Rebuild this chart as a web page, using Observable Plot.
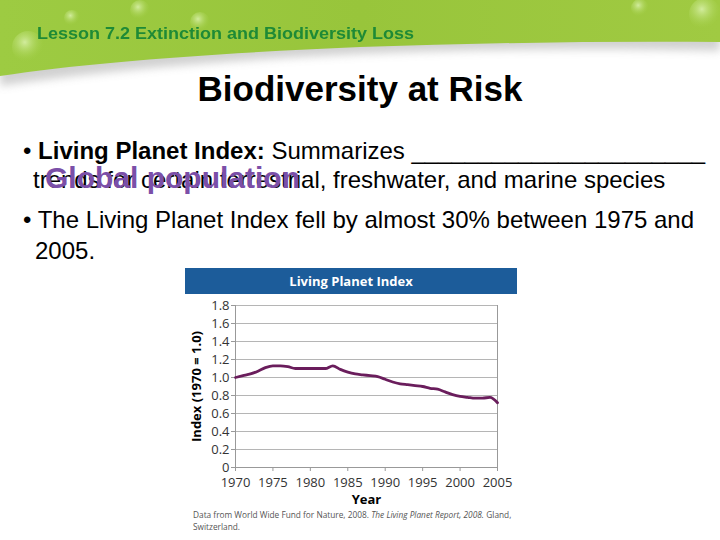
<!DOCTYPE html>
<html>
<head>
<meta charset="utf-8">
<script src="https://cdn.jsdelivr.net/npm/d3@7"></script>
<script src="https://cdn.jsdelivr.net/npm/@observablehq/plot@0.6"></script>
<style>
  html, body { margin: 0; padding: 0; background: #fff; }
  #slide { position: relative; width: 720px; height: 540px; overflow: hidden; background: #fff; font-family: "Liberation Sans", Arial, sans-serif; }
  .abs { position: absolute; white-space: nowrap; }
  #lesson { left: 37px; top: 25px; font-size: 18px; font-weight: bold; color: #1e8a36; line-height: 1; transform-origin: left top; transform: scaleY(0.9); }
  #title { left: 0; width: 720px; text-align: center; top: 71px; font-size: 35px; font-weight: bold; color: #000; line-height: 1; }
  .body { font-size: 24px; color: #000; line-height: 1; }
  #chartbox { position: absolute; left: 185px; top: 268px; width: 332px; height: 268px; background: #fff; }
  #chartHead { height: 26px; background: #1c5c9a; color: #fff; font-family: "Open Sans", sans-serif; font-weight: bold; font-size: 13px; text-align: center; line-height: 26px; }
  #chartbox svg text { font-family: "Open Sans", sans-serif; }
  #chartbox svg [aria-label="y-axis label"] text, #chartbox svg [aria-label="x-axis label"] text { font-weight: bold; fill: #000; }
  #caption { position: absolute; left: 8px; top: 241px; font-family: "Open Sans", sans-serif; font-size: 8.3px; color: #555; line-height: 12px; white-space: nowrap; }
  #caption span { display: inline-block; margin-right: 2.4px; }
</style>
</head>
<body>
<div id="slide">
  <svg class="abs" style="left:0;top:0" width="720" height="110">
    <defs>
      <linearGradient id="g" x1="0" y1="0" x2="1" y2="0">
        <stop offset="0" stop-color="#9dcb42"/>
        <stop offset="0.5" stop-color="#98c53b"/>
        <stop offset="1" stop-color="#a0ca42"/>
      </linearGradient>
      <radialGradient id="bub" cx="0.4" cy="0.35" r="0.6">
        <stop offset="0" stop-color="#d8f0a8" stop-opacity="0.9"/>
        <stop offset="1" stop-color="#a6d24c" stop-opacity="0"/>
      </radialGradient>
      <filter id="sh" x="-10%" y="-10%" width="120%" height="140%"><feGaussianBlur stdDeviation="4"/></filter>
    </defs>
    <path d="M0,0 H720 V47 C600,44 480,45 360,50 C220,56 90,68 0,82 Z" fill="#999" opacity="0.45" filter="url(#sh)" transform="translate(0,4)"/>
    <path d="M0,0 H720 V42 C600,41 480,43 360,47 C220,53 90,62 0,76 Z" fill="url(#g)"/>
    <circle cx="28" cy="47" r="16" fill="url(#bub)"/>
    <circle cx="140" cy="10" r="10" fill="url(#bub)"/>
    <circle cx="72" cy="18" r="8" fill="url(#bub)"/>
    <circle cx="200" cy="22" r="10" fill="url(#bub)"/>
    <circle cx="705" cy="14" r="16" fill="url(#bub)"/>
    <circle cx="640" cy="8" r="9" fill="url(#bub)"/>
  </svg>
  <div id="lesson" class="abs"></div>
  <div id="title" class="abs"></div>
  <div id="b1" class="abs body" style="left:23px;top:139px"></div>
  <div id="b1b" class="abs body" style="left:33px;top:168px"></div>
  <div id="gp" class="abs" style="left:45px;top:163px;font-size:30px;font-weight:bold;color:#7b4fa8;line-height:1"></div>
  <div id="b2" class="abs body" style="left:23px;top:208px"></div>
  <div id="b2b" class="abs body" style="left:35px;top:239px"></div>
  <div id="chartbox">
    <div id="chartHead"></div>
    <div id="plot"></div>
    <div id="caption"></div>
  </div>
</div>
<script>
// ---- text ----
const lessonText = "Lesson 7.2 Extinction and Biodiversity Loss";
const slideTitle = "Biodiversity at Risk";
const bullet1Bold = "Living Planet Index:";
const bullet1Rest = " Summarizes ______________________";
const bullet1Line2 = "trends for certain terrestrial, freshwater, and marine species";
const answerText = "Global population";
const bullet2Line1 = "The Living Planet Index fell by almost 30% between 1975 and";
const bullet2Line2 = "2005.";
const chartTitle = "Living Planet Index";
const xLabel = "Year";
const yLabel = "Index (1970 = 1.0)";
const captionPlain = "Data from World Wide Fund for Nature, 2008.";
const captionItalic = "The Living Planet Report, 2008.";
const captionEnd1 = "Gland,";
const captionEnd2 = "Switzerland.";

// ---- data ----
const years = [1970,1971,1972,1973,1974,1975,1976,1977,1978,1979,1980,1981,1982,1983,1984,1985,1986,1987,1988,1989,1990,1991,1992,1993,1994,1995,1996,1997,1998,1999,2000,2001,2002,2003,2004,2005];
const indexValues = [1.00,1.02,1.04,1.07,1.11,1.13,1.13,1.12,1.10,1.10,1.10,1.10,1.10,1.13,1.09,1.06,1.04,1.03,1.02,1.01,0.98,0.95,0.93,0.92,0.91,0.90,0.88,0.87,0.84,0.81,0.79,0.78,0.77,0.77,0.78,0.72];
const xTicks = [1970,1975,1980,1985,1990,1995,2000,2005];
const yTicks = [0,0.2,0.4,0.6,0.8,1.0,1.2,1.4,1.6,1.8];

// ---- slide text ----
document.getElementById("lesson").textContent = lessonText;
document.getElementById("title").textContent = slideTitle;
const b1 = document.getElementById("b1");
b1.append("\u2022 ");
const bb = document.createElement("b"); bb.textContent = bullet1Bold; b1.append(bb);
b1.append(bullet1Rest);
document.getElementById("b1b").textContent = bullet1Line2;
document.getElementById("gp").textContent = answerText;
document.getElementById("b2").textContent = "\u2022 " + bullet2Line1;
document.getElementById("b2b").textContent = bullet2Line2;
document.getElementById("chartHead").textContent = chartTitle;
const cap = document.getElementById("caption");
[[captionPlain, false], [captionItalic, true], [captionEnd1, false]].forEach(([t, it]) => {
  const s = document.createElement("span");
  s.textContent = t;
  if (it) s.style.fontStyle = "italic";
  cap.append(s);
});
cap.append(document.createElement("br"));
const s2 = document.createElement("span"); s2.textContent = captionEnd2; cap.append(s2);

// ---- chart ----
const data = years.map((y, i) => ({year: y, value: indexValues[i]}));
const chart = Plot.plot({
  width: 332,
  height: 214,
  marginLeft: 50,
  marginRight: 20,
  marginTop: 11,
  marginBottom: 41,
  style: {fontSize: "12.5px", color: "#333", background: "transparent"},
  x: {domain: [1970, 2005]},
  y: {domain: [0, 1.8]},
  marks: [
    Plot.gridY(yTicks, {stroke: "#b5b5b5", strokeOpacity: 1}),
    Plot.ruleX([2005], {stroke: "#999"}),
    Plot.ruleX([1970], {stroke: "#999"}),
    Plot.axisY(yTicks, {tickFormat: d => d === 0 ? "0" : d.toFixed(1), tickSize: 4, tickPadding: 2, stroke: "#999",
      label: yLabel, labelAnchor: "center", labelArrow: "none", labelOffset: 44, fontSize: 13}),
    Plot.axisX(xTicks, {tickFormat: d => String(d), tickSize: 4, tickPadding: 6, stroke: "#999",
      label: xLabel, labelAnchor: "center", labelArrow: "none", labelOffset: 36, fontSize: 13}),
    Plot.ruleY([0], {stroke: "#999"}),
    Plot.lineY(data, {x: "year", y: "value", stroke: "#6a1d5c", strokeWidth: 2.8, curve: "monotone-x"})
  ]
});
document.getElementById("plot").appendChild(chart);
</script>
</body>
</html>
